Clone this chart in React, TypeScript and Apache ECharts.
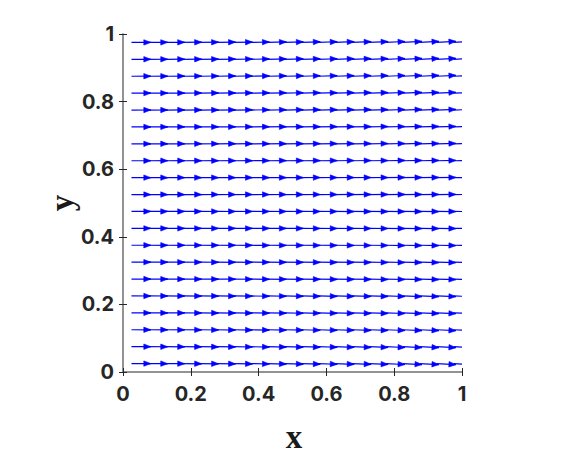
import React, { useEffect, useRef } from "react";
import * as echarts from "echarts";

// grid positions of the arrows (data units)
const xs = [0.025, 0.075, 0.125, 0.175, 0.225, 0.275, 0.325, 0.375, 0.425, 0.475,
  0.525, 0.575, 0.625, 0.675, 0.725, 0.775, 0.825, 0.875, 0.925, 0.975];
const ys = [0.025, 0.075, 0.125, 0.175, 0.225, 0.275, 0.325, 0.375, 0.425, 0.475,
  0.525, 0.575, 0.625, 0.675, 0.725, 0.775, 0.825, 0.875, 0.925, 0.975];
// horizontal component (constant) and vertical tilt per row / per column
const uValue = 1;
const rowV = [-0.06, -0.054, -0.048, -0.042, -0.036, -0.03, -0.024, -0.018, -0.012, -0.006,
  0.006, 0.012, 0.018, 0.024, 0.03, 0.036, 0.042, 0.048, 0.054, 0.06];
const colGain = [0.05, 0.1, 0.15, 0.2, 0.25, 0.3, 0.35, 0.4, 0.45, 0.5,
  0.55, 0.6, 0.65, 0.7, 0.75, 0.8, 0.85, 0.9, 0.95, 1.0];
const tickValues = ["0", "0.2", "0.4", "0.6", "0.8", "1"];

const ARROW_LEN = 0.057;

export default function App() {
  const ref = useRef<HTMLDivElement>(null);
  useEffect(() => {
    if (!ref.current) return;
    const chart = echarts.init(ref.current, null, { renderer: "svg" });
    const data: number[][] = [];
    ys.forEach((y, i) => {
      xs.forEach((x, j) => {
        data.push([x, y, uValue, rowV[i] * colGain[j]]);
      });
    });
    const labelFmt = (v: number) => {
      const s = String(Math.round(v * 10) / 10);
      return tickValues.includes(s) ? s : "";
    };
    const axisLine = { show: true, lineStyle: { color: "#8c8c8c", width: 1.5 } };
    const axisTick = { show: true, inside: true, length: 4, lineStyle: { color: "#262626", width: 1 } };
    const labelStyle = {
      fontFamily: "Inter",
      fontWeight: "bold" as const,
      fontSize: 20,
      color: "#262626",
    };
    chart.setOption({
      animation: false,
      grid: { left: 123, top: 34, width: 339, height: 338, containLabel: false },
      xAxis: [
        {
          type: "value", min: 0, max: 1, interval: 0.2, position: "bottom",
          axisLine, axisTick, splitLine: { show: false },
          axisLabel: { ...labelStyle, margin: 12, formatter: labelFmt },
        },
        {
          type: "value", min: 0, max: 1, interval: 0.2, position: "top",
          axisLine, axisTick, splitLine: { show: false }, axisLabel: { show: false },
        },
      ],
      yAxis: [
        {
          type: "value", min: 0, max: 1, interval: 0.2, position: "left",
          axisLine, axisTick, splitLine: { show: false },
          axisLabel: { ...labelStyle, margin: 9, formatter: labelFmt },
        },
        {
          type: "value", min: 0, max: 1, interval: 0.2, position: "right",
          axisLine, axisTick, splitLine: { show: false }, axisLabel: { show: false },
        },
      ],
      graphic: [
        {
          type: "text", x: 294, y: 437,
          style: {
            text: "x", fontFamily: "Liberation Serif", fontWeight: "bold", fontSize: 33,
            fill: "#1a1a1a", textAlign: "center", textVerticalAlign: "middle",
          },
        },
        {
          type: "text", x: 62, y: 203, rotation: Math.PI / 2,
          style: {
            text: "y", fontFamily: "Liberation Serif", fontWeight: "bold", fontSize: 33,
            fill: "#1a1a1a", textAlign: "center", textVerticalAlign: "middle",
          },
        },
      ],
      series: [
        {
          type: "custom",
          xAxisIndex: 0,
          yAxisIndex: 0,
          clip: true,
          data,
          encode: { x: 0, y: 1 },
          renderItem: (params: any, api: any) => {
            const x = api.value(0);
            const y = api.value(1);
            const u = api.value(2);
            const v = api.value(3);
            const p0 = api.coord([x, y]);
            const p1 = api.coord([x + ARROW_LEN * u, y + ARROW_LEN * v]);
            const dx = p1[0] - p0[0];
            const dy = p1[1] - p0[1];
            const len = Math.sqrt(dx * dx + dy * dy) || 1;
            const ux = dx / len;
            const uy = dy / len;
            const hl = 7;
            const hw = 2.7;
            const bx = p1[0] - ux * hl;
            const by = p1[1] - uy * hl;
            return {
              type: "group",
              children: [
                {
                  type: "line",
                  shape: { x1: p0[0], y1: p0[1], x2: p1[0], y2: p1[1] },
                  style: { stroke: "#0000ff", lineWidth: 1.2 },
                },
                {
                  type: "polygon",
                  shape: {
                    points: [
                      [p1[0], p1[1]],
                      [bx - uy * hw, by + ux * hw],
                      [bx + uy * hw, by - ux * hw],
                    ],
                  },
                  style: { fill: "#0000ff", stroke: "#0000ff", lineWidth: 0.6 },
                },
              ],
            };
          },
        },
      ],
    });
    return () => chart.dispose();
  }, []);
  return (
    <div
      ref={ref}
      style={{ position: "fixed", left: 0, top: 0, width: 566, height: 454, background: "#fff" }}
    />
  );
}
